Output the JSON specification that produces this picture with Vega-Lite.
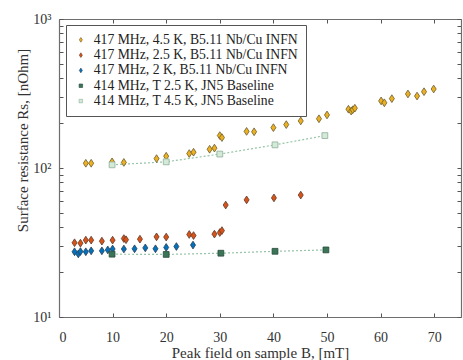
{
  "$schema": "https://vega.github.io/schema/vega-lite/v6.json",
  "autosize": {"type": "none"},
  "padding": {"left": 59, "top": 19, "right": 2, "bottom": 43},
  "width": 402,
  "height": 298,
  "background": "white",
  "config": {
    "view": {"stroke": null},
    "font": "Liberation Serif, Times New Roman, serif",
    "axis": {"grid": false, "labelFont": "Liberation Serif, Times New Roman, serif", "titleFont": "Liberation Serif, Times New Roman, serif", "labelFontSize": 14, "titleFontSize": 15, "titleFontWeight": "normal", "labelColor": "#333", "titleColor": "#333", "domainColor": "#6e6e6e", "tickColor": "#555", "domainWidth": 1.2, "tickWidth": 1}
  },
  "data": {"values": [
    {"series": "417 MHz, 4.5 K, B5.11 Nb/Cu INFN", "B": 5.0, "Rs": 107.6},
    {"series": "417 MHz, 4.5 K, B5.11 Nb/Cu INFN", "B": 6.0, "Rs": 107.6},
    {"series": "417 MHz, 4.5 K, B5.11 Nb/Cu INFN", "B": 9.9, "Rs": 110},
    {"series": "417 MHz, 4.5 K, B5.11 Nb/Cu INFN", "B": 12.1, "Rs": 109},
    {"series": "417 MHz, 4.5 K, B5.11 Nb/Cu INFN", "B": 18.2, "Rs": 115.6},
    {"series": "417 MHz, 4.5 K, B5.11 Nb/Cu INFN", "B": 20.0, "Rs": 120},
    {"series": "417 MHz, 4.5 K, B5.11 Nb/Cu INFN", "B": 24.3, "Rs": 125},
    {"series": "417 MHz, 4.5 K, B5.11 Nb/Cu INFN", "B": 25.1, "Rs": 127.6},
    {"series": "417 MHz, 4.5 K, B5.11 Nb/Cu INFN", "B": 28.1, "Rs": 133.6},
    {"series": "417 MHz, 4.5 K, B5.11 Nb/Cu INFN", "B": 29.0, "Rs": 136},
    {"series": "417 MHz, 4.5 K, B5.11 Nb/Cu INFN", "B": 30.0, "Rs": 165},
    {"series": "417 MHz, 4.5 K, B5.11 Nb/Cu INFN", "B": 30.4, "Rs": 160},
    {"series": "417 MHz, 4.5 K, B5.11 Nb/Cu INFN", "B": 35.0, "Rs": 176},
    {"series": "417 MHz, 4.5 K, B5.11 Nb/Cu INFN", "B": 36.4, "Rs": 175},
    {"series": "417 MHz, 4.5 K, B5.11 Nb/Cu INFN", "B": 40.0, "Rs": 186.5},
    {"series": "417 MHz, 4.5 K, B5.11 Nb/Cu INFN", "B": 42.4, "Rs": 195.5},
    {"series": "417 MHz, 4.5 K, B5.11 Nb/Cu INFN", "B": 45.1, "Rs": 207},
    {"series": "417 MHz, 4.5 K, B5.11 Nb/Cu INFN", "B": 48.5, "Rs": 214},
    {"series": "417 MHz, 4.5 K, B5.11 Nb/Cu INFN", "B": 50.0, "Rs": 227},
    {"series": "417 MHz, 4.5 K, B5.11 Nb/Cu INFN", "B": 54.0, "Rs": 248},
    {"series": "417 MHz, 4.5 K, B5.11 Nb/Cu INFN", "B": 54.5, "Rs": 241},
    {"series": "417 MHz, 4.5 K, B5.11 Nb/Cu INFN", "B": 54.8, "Rs": 246},
    {"series": "417 MHz, 4.5 K, B5.11 Nb/Cu INFN", "B": 55.2, "Rs": 252},
    {"series": "417 MHz, 4.5 K, B5.11 Nb/Cu INFN", "B": 60.1, "Rs": 282},
    {"series": "417 MHz, 4.5 K, B5.11 Nb/Cu INFN", "B": 60.7, "Rs": 274},
    {"series": "417 MHz, 4.5 K, B5.11 Nb/Cu INFN", "B": 62.1, "Rs": 292},
    {"series": "417 MHz, 4.5 K, B5.11 Nb/Cu INFN", "B": 65.1, "Rs": 314},
    {"series": "417 MHz, 4.5 K, B5.11 Nb/Cu INFN", "B": 66.8, "Rs": 304},
    {"series": "417 MHz, 4.5 K, B5.11 Nb/Cu INFN", "B": 68.1, "Rs": 325},
    {"series": "417 MHz, 4.5 K, B5.11 Nb/Cu INFN", "B": 69.9, "Rs": 339},
    {"series": "417 MHz, 2.5 K, B5.11 Nb/Cu INFN", "B": 2.9, "Rs": 31.5},
    {"series": "417 MHz, 2.5 K, B5.11 Nb/Cu INFN", "B": 4.0, "Rs": 31.3},
    {"series": "417 MHz, 2.5 K, B5.11 Nb/Cu INFN", "B": 5.0, "Rs": 32.8},
    {"series": "417 MHz, 2.5 K, B5.11 Nb/Cu INFN", "B": 6.0, "Rs": 32.8},
    {"series": "417 MHz, 2.5 K, B5.11 Nb/Cu INFN", "B": 8.0, "Rs": 32.3},
    {"series": "417 MHz, 2.5 K, B5.11 Nb/Cu INFN", "B": 10.0, "Rs": 32.8},
    {"series": "417 MHz, 2.5 K, B5.11 Nb/Cu INFN", "B": 12.1, "Rs": 33.6},
    {"series": "417 MHz, 2.5 K, B5.11 Nb/Cu INFN", "B": 12.5, "Rs": 33.0},
    {"series": "417 MHz, 2.5 K, B5.11 Nb/Cu INFN", "B": 15.1, "Rs": 33.3},
    {"series": "417 MHz, 2.5 K, B5.11 Nb/Cu INFN", "B": 18.2, "Rs": 34.5},
    {"series": "417 MHz, 2.5 K, B5.11 Nb/Cu INFN", "B": 20.0, "Rs": 34.4},
    {"series": "417 MHz, 2.5 K, B5.11 Nb/Cu INFN", "B": 24.3, "Rs": 35.8},
    {"series": "417 MHz, 2.5 K, B5.11 Nb/Cu INFN", "B": 25.1, "Rs": 35.2},
    {"series": "417 MHz, 2.5 K, B5.11 Nb/Cu INFN", "B": 29.0, "Rs": 36.0},
    {"series": "417 MHz, 2.5 K, B5.11 Nb/Cu INFN", "B": 30.0, "Rs": 36.9},
    {"series": "417 MHz, 2.5 K, B5.11 Nb/Cu INFN", "B": 30.4, "Rs": 38.0},
    {"series": "417 MHz, 2.5 K, B5.11 Nb/Cu INFN", "B": 31.1, "Rs": 56.4},
    {"series": "417 MHz, 2.5 K, B5.11 Nb/Cu INFN", "B": 35.0, "Rs": 61.1},
    {"series": "417 MHz, 2.5 K, B5.11 Nb/Cu INFN", "B": 40.1, "Rs": 63.0},
    {"series": "417 MHz, 2.5 K, B5.11 Nb/Cu INFN", "B": 45.1, "Rs": 65.8},
    {"series": "417 MHz, 2 K, B5.11 Nb/Cu INFN", "B": 2.9, "Rs": 27.4},
    {"series": "417 MHz, 2 K, B5.11 Nb/Cu INFN", "B": 3.6, "Rs": 26.5},
    {"series": "417 MHz, 2 K, B5.11 Nb/Cu INFN", "B": 4.0, "Rs": 27.5},
    {"series": "417 MHz, 2 K, B5.11 Nb/Cu INFN", "B": 5.0, "Rs": 27.4},
    {"series": "417 MHz, 2 K, B5.11 Nb/Cu INFN", "B": 6.0, "Rs": 27.8},
    {"series": "417 MHz, 2 K, B5.11 Nb/Cu INFN", "B": 8.0, "Rs": 27.8},
    {"series": "417 MHz, 2 K, B5.11 Nb/Cu INFN", "B": 9.1, "Rs": 28.2},
    {"series": "417 MHz, 2 K, B5.11 Nb/Cu INFN", "B": 10.0, "Rs": 28.6},
    {"series": "417 MHz, 2 K, B5.11 Nb/Cu INFN", "B": 12.1, "Rs": 28.6},
    {"series": "417 MHz, 2 K, B5.11 Nb/Cu INFN", "B": 14.1, "Rs": 28.7},
    {"series": "417 MHz, 2 K, B5.11 Nb/Cu INFN", "B": 16.1, "Rs": 29.1},
    {"series": "417 MHz, 2 K, B5.11 Nb/Cu INFN", "B": 18.0, "Rs": 28.7},
    {"series": "417 MHz, 2 K, B5.11 Nb/Cu INFN", "B": 20.0, "Rs": 29.3},
    {"series": "417 MHz, 2 K, B5.11 Nb/Cu INFN", "B": 21.9, "Rs": 29.7},
    {"series": "417 MHz, 2 K, B5.11 Nb/Cu INFN", "B": 25.0, "Rs": 30.4},
    {"series": "414 MHz, T 2.5 K, JN5 Baseline", "B": 9.9, "Rs": 26.4},
    {"series": "414 MHz, T 2.5 K, JN5 Baseline", "B": 20.0, "Rs": 26.3},
    {"series": "414 MHz, T 2.5 K, JN5 Baseline", "B": 30.2, "Rs": 26.8},
    {"series": "414 MHz, T 2.5 K, JN5 Baseline", "B": 40.3, "Rs": 27.6},
    {"series": "414 MHz, T 2.5 K, JN5 Baseline", "B": 49.8, "Rs": 28.2},
    {"series": "414 MHz, T 4.5 K, JN5 Baseline", "B": 9.9, "Rs": 105},
    {"series": "414 MHz, T 4.5 K, JN5 Baseline", "B": 20.0, "Rs": 110},
    {"series": "414 MHz, T 4.5 K, JN5 Baseline", "B": 30.0, "Rs": 124},
    {"series": "414 MHz, T 4.5 K, JN5 Baseline", "B": 40.3, "Rs": 143},
    {"series": "414 MHz, T 4.5 K, JN5 Baseline", "B": 49.6, "Rs": 165}
  ]},
  "layer": [
    {
      "transform": [{"filter": "indexof(datum.series, 'Baseline') >= 0"}],
      "mark": {"type": "line", "color": "#96c4a6", "strokeWidth": 1.2, "strokeDash": [2, 2]},
      "encoding": {
        "x": {"field": "B", "type": "quantitative", "scale": {"domain": [0, 75], "nice": false, "zero": false},
              "axis": {"orient": "top", "values": [0, 10, 20, 30, 40, 50, 60, 70], "labels": false, "title": null, "tickSize": -4}},
        "y": {"field": "Rs", "type": "quantitative", "scale": {"type": "log", "domain": [10, 1000], "nice": false},
              "axis": {"orient": "right", "values": [10, 20, 30, 40, 50, 60, 70, 80, 90, 100, 200, 300, 400, 500, 600, 700, 800, 900, 1000], "labels": false, "title": null, "tickSize": -4}},
        "detail": {"field": "series"}
      }
    },
    {
      "mark": {"type": "point", "filled": true, "opacity": 1, "strokeWidth": 0.8, "size": 60},
      "encoding": {
        "x": {"field": "B", "type": "quantitative",
              "axis": {"orient": "bottom", "values": [0, 10, 20, 30, 40, 50, 60, 70], "tickSize": -4, "labelPadding": 17, "title": "Peak field on sample B, [mT]", "titlePadding": 1}},
        "y": {"field": "Rs", "type": "quantitative",
              "axis": {"orient": "left", "values": [10, 20, 30, 40, 50, 60, 70, 80, 90, 100, 200, 300, 400, 500, 600, 700, 800, 900, 1000], "tickSize": -4, "labelPadding": 12,
                       "labelExpr": "datum.value == 10 ? '10¹' : datum.value == 100 ? '10²' : datum.value == 1000 ? '10³' : ''",
                       "title": "Surface resistance Rs, [nOhm]", "titleX": -29, "titleY": 121}},
        "fill": {"field": "series", "type": "nominal",
                 "scale": {"domain": ["417 MHz, 4.5 K, B5.11 Nb/Cu INFN", "417 MHz, 2.5 K, B5.11 Nb/Cu INFN", "417 MHz, 2 K, B5.11 Nb/Cu INFN", "414 MHz, T 2.5 K, JN5 Baseline", "414 MHz, T 4.5 K, JN5 Baseline"],
                           "range": ["#EDB120", "#D95319", "#0072BD", "#3A7558", "#D3EAD8"]},
                 "legend": {"orient": "none", "legendX": 7, "legendY": 6, "title": null, "strokeColor": "#555", "fillColor": "white", "padding": 8, "labelFont": "Liberation Serif, Times New Roman, serif", "labelFontSize": 13.7, "labelColor": "#222", "labelLimit": 400, "rowPadding": 0.3, "labelOffset": 6, "symbolSize": 22, "symbolStrokeWidth": 0.6}},
        "stroke": {"field": "series", "type": "nominal",
                   "scale": {"domain": ["417 MHz, 4.5 K, B5.11 Nb/Cu INFN", "417 MHz, 2.5 K, B5.11 Nb/Cu INFN", "417 MHz, 2 K, B5.11 Nb/Cu INFN", "414 MHz, T 2.5 K, JN5 Baseline", "414 MHz, T 4.5 K, JN5 Baseline"],
                             "range": ["#6a5a30", "#5e3a28", "#2b3d55", "#2a4a3a", "#8eae98"]}},
        "shape": {"field": "series", "type": "nominal",
                  "scale": {"domain": ["417 MHz, 4.5 K, B5.11 Nb/Cu INFN", "417 MHz, 2.5 K, B5.11 Nb/Cu INFN", "417 MHz, 2 K, B5.11 Nb/Cu INFN", "414 MHz, T 2.5 K, JN5 Baseline", "414 MHz, T 4.5 K, JN5 Baseline"],
                            "range": ["M0,-1L0.65,0L0,1L-0.65,0Z", "M0,-1L0.65,0L0,1L-0.65,0Z", "M0,-1L0.65,0L0,1L-0.65,0Z", "M-0.75,-0.75H0.75V0.75H-0.75Z", "M-0.75,-0.75H0.75V0.75H-0.75Z"]}}
      }
    }
  ],
  "resolve": {"axis": {"x": "independent", "y": "independent"}}
}
